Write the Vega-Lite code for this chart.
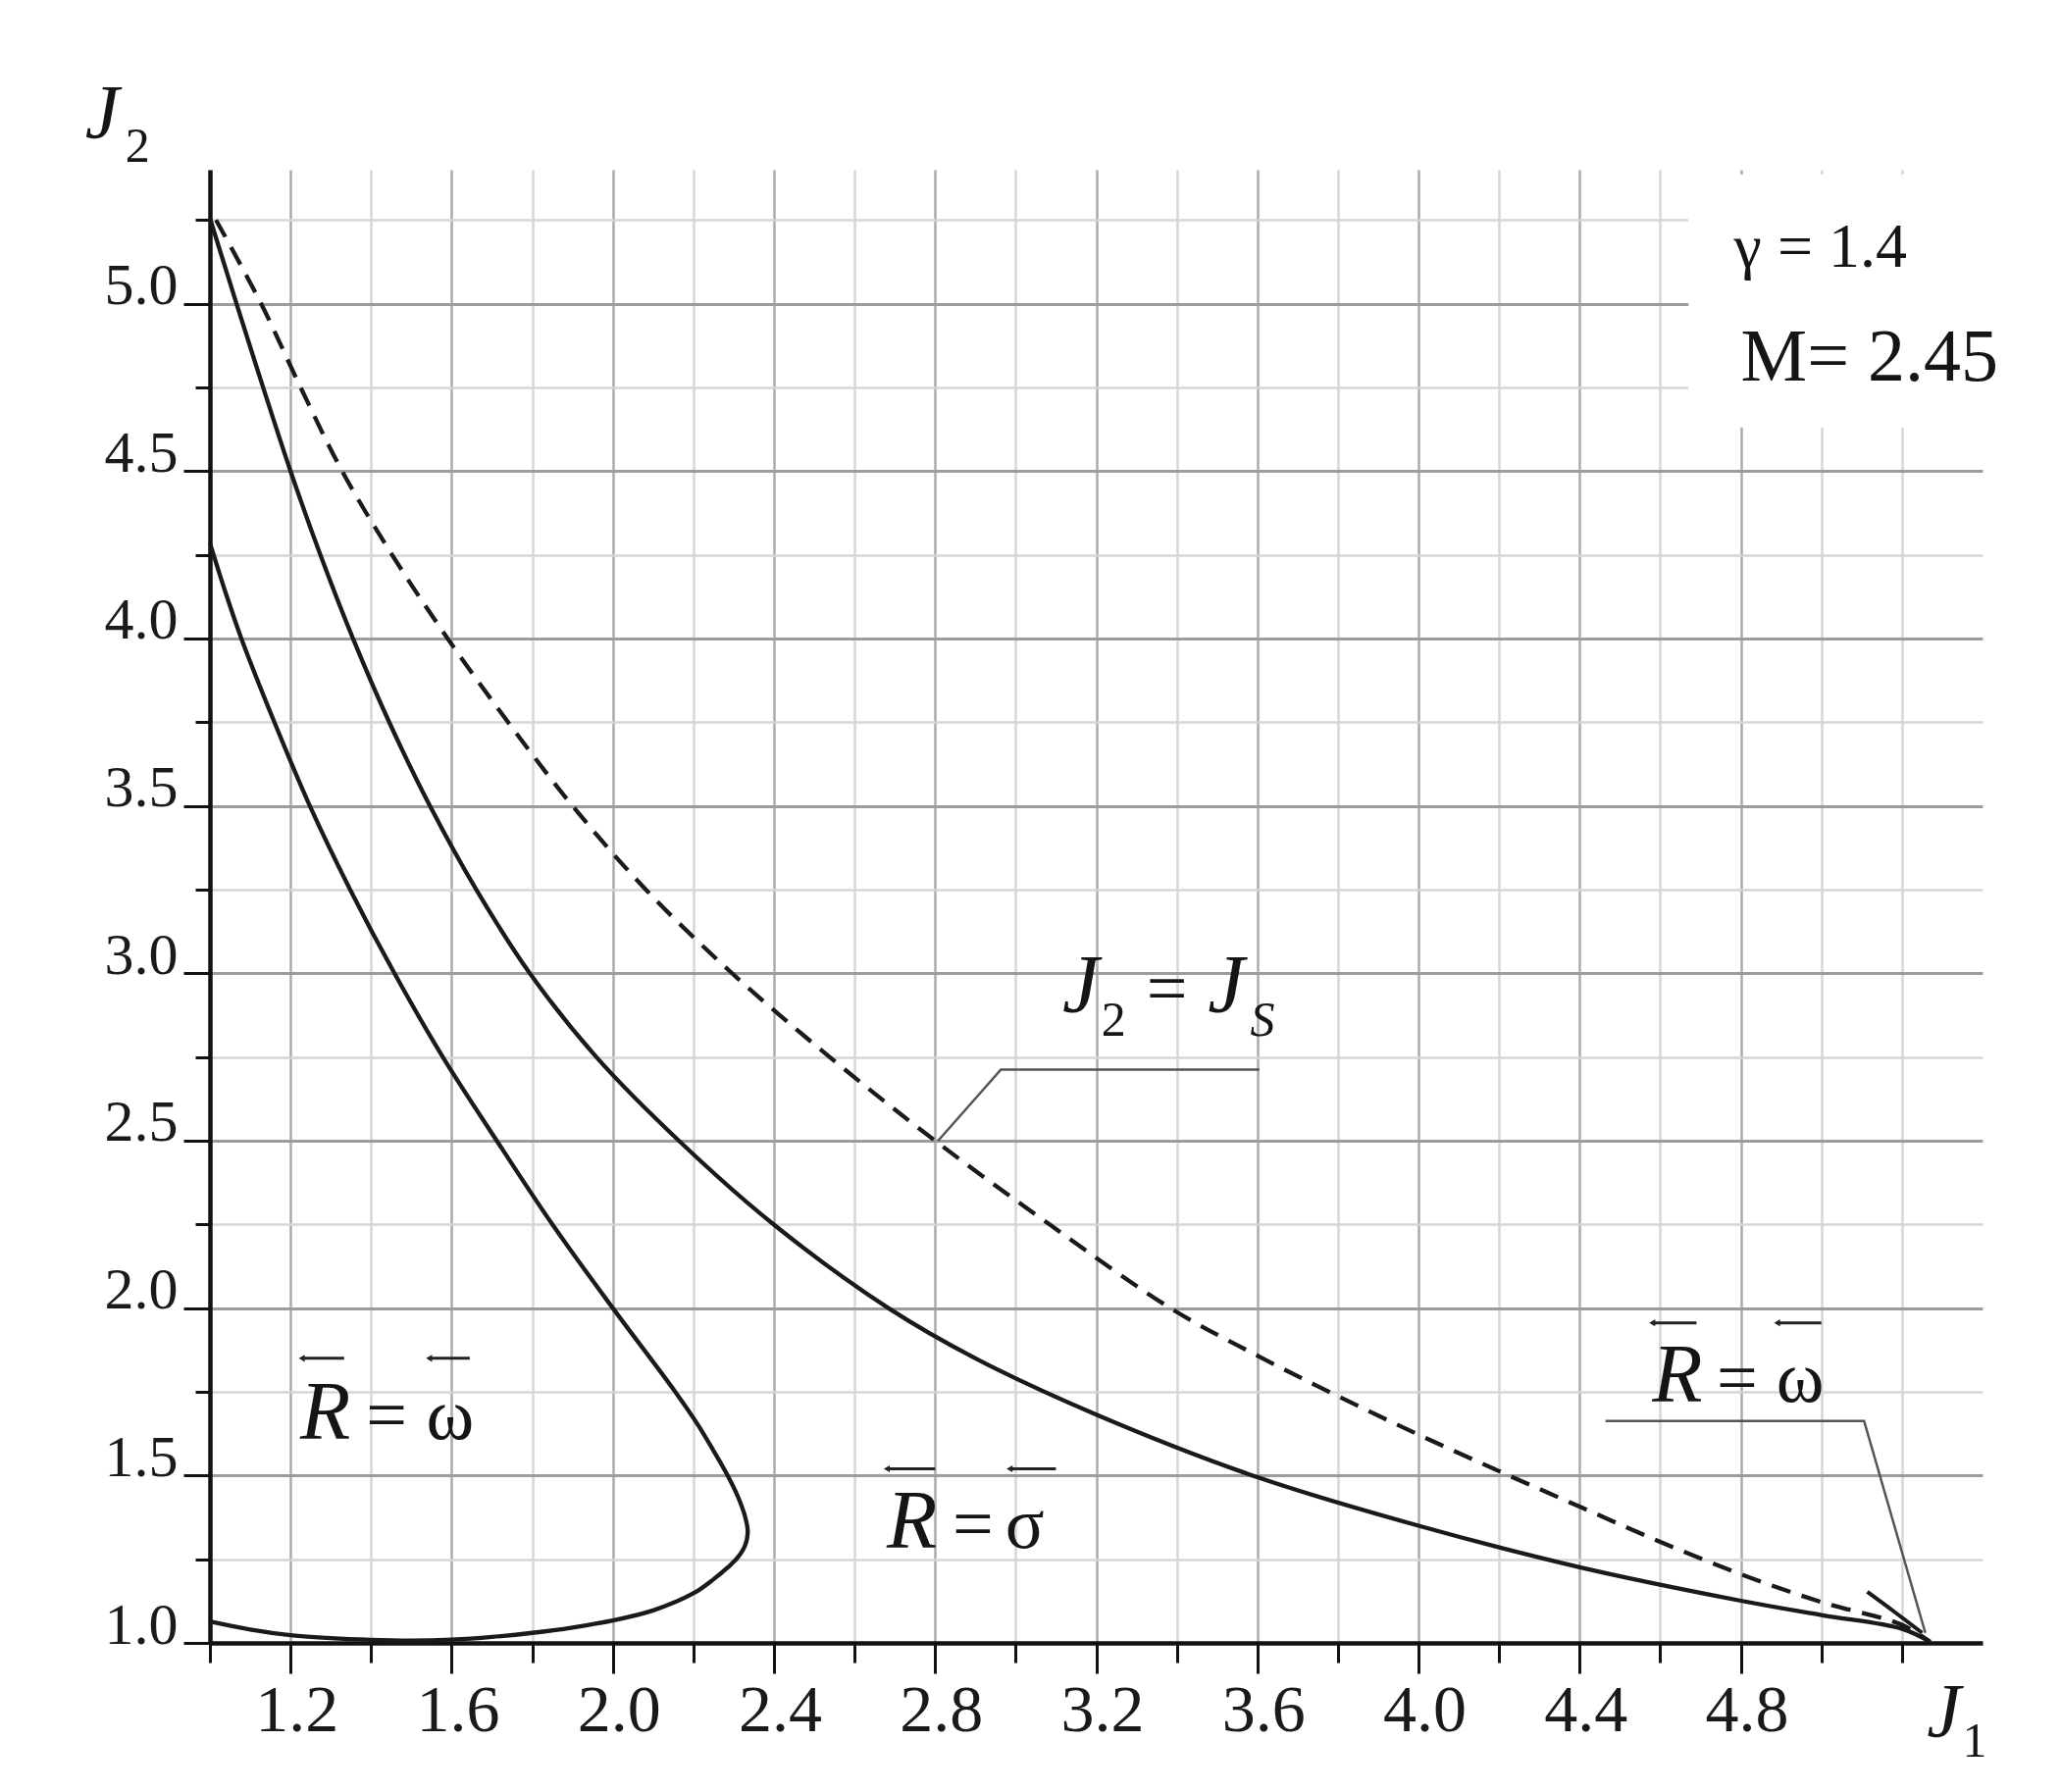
{
  "$schema": "https://vega.github.io/schema/vega-lite/v6.json",
  "width": 1807,
  "height": 1502,
  "autosize": {"type": "none"},
  "padding": {"left": 214, "top": 173, "right": 80, "bottom": 152},
  "background": "white",
  "config": {"view": {"stroke": null}, "font": "Liberation Serif"},
  "datasets": {
    "inner": [
      {"i": 1, "J1": 1.0, "J2": 4.285}, {"i": 2, "J1": 1.038, "J2": 4.14}, {"i": 3, "J1": 1.078, "J2": 4.0},
      {"i": 4, "J1": 1.16, "J2": 3.75}, {"i": 5, "J1": 1.248, "J2": 3.5}, {"i": 6, "J1": 1.348, "J2": 3.25},
      {"i": 7, "J1": 1.458, "J2": 3.0}, {"i": 8, "J1": 1.578, "J2": 2.75}, {"i": 9, "J1": 1.712, "J2": 2.5},
      {"i": 10, "J1": 1.85, "J2": 2.25}, {"i": 11, "J1": 2.0, "J2": 2.0}, {"i": 12, "J1": 2.155, "J2": 1.75},
      {"i": 13, "J1": 2.212, "J2": 1.65}, {"i": 14, "J1": 2.25, "J2": 1.574}, {"i": 15, "J1": 2.285, "J2": 1.5},
      {"i": 16, "J1": 2.313, "J2": 1.43}, {"i": 17, "J1": 2.33, "J2": 1.37}, {"i": 18, "J1": 2.335, "J2": 1.33},
      {"i": 19, "J1": 2.328, "J2": 1.29}, {"i": 20, "J1": 2.31, "J2": 1.255}, {"i": 21, "J1": 2.285, "J2": 1.225},
      {"i": 22, "J1": 2.25, "J2": 1.19}, {"i": 23, "J1": 2.2, "J2": 1.148}, {"i": 24, "J1": 2.1, "J2": 1.097},
      {"i": 25, "J1": 2.0, "J2": 1.067}, {"i": 26, "J1": 1.9, "J2": 1.046}, {"i": 27, "J1": 1.8, "J2": 1.03},
      {"i": 28, "J1": 1.7, "J2": 1.018}, {"i": 29, "J1": 1.6, "J2": 1.01}, {"i": 30, "J1": 1.5, "J2": 1.007},
      {"i": 31, "J1": 1.4, "J2": 1.009}, {"i": 32, "J1": 1.3, "J2": 1.014}, {"i": 33, "J1": 1.2, "J2": 1.023},
      {"i": 34, "J1": 1.1, "J2": 1.04}, {"i": 35, "J1": 1.0, "J2": 1.064}
    ],
    "sigma": [
      {"i": 1, "J1": 1.0, "J2": 5.255}, {"i": 2, "J1": 1.066, "J2": 5.0}, {"i": 3, "J1": 1.132, "J2": 4.75},
      {"i": 4, "J1": 1.2, "J2": 4.5}, {"i": 5, "J1": 1.274, "J2": 4.25}, {"i": 6, "J1": 1.355, "J2": 4.0},
      {"i": 7, "J1": 1.445, "J2": 3.75}, {"i": 8, "J1": 1.546, "J2": 3.5}, {"i": 9, "J1": 1.661, "J2": 3.25},
      {"i": 10, "J1": 1.794, "J2": 3.0}, {"i": 11, "J1": 1.959, "J2": 2.75}, {"i": 12, "J1": 2.164, "J2": 2.5},
      {"i": 13, "J1": 2.399, "J2": 2.25}, {"i": 14, "J1": 2.684, "J2": 2.0}, {"i": 15, "J1": 2.9, "J2": 1.85},
      {"i": 16, "J1": 3.2, "J2": 1.682}, {"i": 17, "J1": 3.6, "J2": 1.495}, {"i": 18, "J1": 4.0, "J2": 1.35},
      {"i": 19, "J1": 4.4, "J2": 1.226}, {"i": 20, "J1": 4.8, "J2": 1.126}, {"i": 21, "J1": 5.0, "J2": 1.083},
      {"i": 22, "J1": 5.2, "J2": 1.042}, {"i": 23, "J1": 5.27, "J2": 1.003}
    ],
    "js": [
      {"i": 1, "J1": 1.015, "J2": 5.25}, {"i": 2, "J1": 1.127, "J2": 5.0},
      {"i": 3, "J1": 1.225, "J2": 4.75}, {"i": 4, "J1": 1.328, "J2": 4.5}, {"i": 5, "J1": 1.452, "J2": 4.25},
      {"i": 6, "J1": 1.59, "J2": 4.0}, {"i": 7, "J1": 1.74, "J2": 3.75}, {"i": 8, "J1": 1.9, "J2": 3.5},
      {"i": 9, "J1": 2.082, "J2": 3.25}, {"i": 10, "J1": 2.296, "J2": 3.0}, {"i": 11, "J1": 2.538, "J2": 2.75},
      {"i": 12, "J1": 2.8, "J2": 2.5}, {"i": 13, "J1": 3.084, "J2": 2.25}, {"i": 14, "J1": 3.384, "J2": 2.0},
      {"i": 15, "J1": 3.6, "J2": 1.858}, {"i": 16, "J1": 3.8, "J2": 1.737}, {"i": 17, "J1": 4.0, "J2": 1.622},
      {"i": 18, "J1": 4.2, "J2": 1.513}, {"i": 19, "J1": 4.4, "J2": 1.407}, {"i": 20, "J1": 4.6, "J2": 1.302},
      {"i": 21, "J1": 4.8, "J2": 1.205}, {"i": 22, "J1": 5.0, "J2": 1.122}, {"i": 23, "J1": 5.2, "J2": 1.054},
      {"i": 24, "J1": 5.27, "J2": 1.003}
    ],
    "omegaRight": [
      {"i": 1, "J1": 5.114, "J2": 1.153}, {"i": 2, "J1": 5.19, "J2": 1.085}, {"i": 3, "J1": 5.25, "J2": 1.03}
    ],
    "leaders": [
      {"g": "js", "i": 1, "J1": 2.807, "J2": 2.499}, {"g": "js", "i": 2, "J1": 2.963, "J2": 2.712}, {"g": "js", "i": 3, "J1": 3.605, "J2": 2.712},
      {"g": "om", "i": 1, "J1": 4.464, "J2": 1.663}, {"g": "om", "i": 2, "J1": 5.106, "J2": 1.663}, {"g": "om", "i": 3, "J1": 5.258, "J2": 1.03}
    ],
    "box": [{"J1": 4.67, "J1b": 5.405, "J2": 4.63, "J2b": 5.385}],
    "overbars": [
      {"J1": 1.228, "J1b": 1.333, "J2": 1.85}, {"J1": 1.544, "J1b": 1.645, "J2": 1.85},
      {"J1": 2.68, "J1b": 2.8, "J2": 1.52}, {"J1": 2.985, "J1b": 3.1, "J2": 1.52},
      {"J1": 4.58, "J1b": 4.69, "J2": 1.956}, {"J1": 4.89, "J1b": 5.0, "J2": 1.956}
    ],
    "italicBig": [
      {"J1": 3.116, "J2": 2.885, "t": "J"}, {"J1": 3.477, "J2": 2.885, "t": "J"},
      {"J1": 1.224, "J2": 1.608, "t": "R"}, {"J1": 2.68, "J2": 1.283, "t": "R"}, {"J1": 4.58, "J2": 1.72, "t": "R"}
    ],
    "upright": [
      {"J1": 1.388, "J2": 1.608, "t": "="}, {"J1": 1.537, "J2": 1.608, "t": "ω"},
      {"J1": 2.843, "J2": 1.283, "t": "="}, {"J1": 2.974, "J2": 1.283, "t": "σ"},
      {"J1": 4.74, "J2": 1.72, "t": "="}, {"J1": 4.888, "J2": 1.72, "t": "ω"},
      {"J1": 3.325, "J2": 2.885, "t": "="}
    ],
    "subs": [
      {"J1": 3.213, "J2": 2.813, "t": "2"}, {"J1": 0.79, "J2": 5.423, "t": "2"}, {"J1": 5.35, "J2": 0.66, "t": "1"}
    ],
    "subsItalic": [{"J1": 3.582, "J2": 2.813, "t": "S"}],
    "axisJ": [{"J1": 0.69, "J2": 5.496, "t": "J"}, {"J1": 5.262, "J2": 0.722, "t": "J"}],
    "gamma": [{"J1": 4.783, "J2": 5.11, "t": "γ = 1.4"}],
    "mach": [{"J1": 4.8, "J2": 4.77, "t": "M= 2.45"}]
  },
  "encoding": {
    "x": {"field": "J1", "type": "quantitative", "scale": {"domain": [1, 5.4], "nice": false, "zero": false}, "axis": null},
    "y": {"field": "J2", "type": "quantitative", "scale": {"domain": [1, 5.4], "nice": false, "zero": false}, "axis": null}
  },
  "layer": [
    {
      "data": {"name": "inner"},
      "mark": {"type": "line", "interpolate": "catmull-rom", "stroke": "#1a1a1a", "strokeWidth": 4.3},
      "encoding": {
        "order": {"field": "i", "type": "quantitative"},
        "x": {"field": "J1", "type": "quantitative", "scale": {"domain": [1, 5.4], "nice": false, "zero": false},
          "axis": {"orient": "bottom", "title": null, "values": [1.0, 1.4, 1.8, 2.2, 2.6, 3.0, 3.4, 3.8, 4.2, 4.6, 5.0, 5.2],
            "grid": true, "gridColor": "#d6d6d6", "gridWidth": 2.5,
            "gridOpacity": {"condition": {"test": "datum.value == 1", "value": 0}, "value": 1},
            "labels": false, "ticks": true, "tickSize": 20, "tickWidth": 3, "tickColor": "#111",
            "domain": true, "domainColor": "#111", "domainWidth": 4.5}},
        "y": {"field": "J2", "type": "quantitative", "scale": {"domain": [1, 5.4], "nice": false, "zero": false},
          "axis": {"orient": "left", "title": null, "values": [1.25, 1.75, 2.25, 2.75, 3.25, 3.75, 4.25, 4.75, 5.25],
            "grid": true, "gridColor": "#d6d6d6", "gridWidth": 2.5,
            "labels": false, "ticks": true, "tickSize": 15, "tickWidth": 3, "tickColor": "#111",
            "domain": true, "domainColor": "#111", "domainWidth": 4.5}}
      }
    },
    {
      "data": {"name": "sigma"},
      "mark": {"type": "line", "interpolate": "catmull-rom", "stroke": "#1a1a1a", "strokeWidth": 4.3},
      "encoding": {
        "order": {"field": "i", "type": "quantitative"},
        "x": {"field": "J1", "type": "quantitative", "scale": {"domain": [1, 5.4], "nice": false, "zero": false},
          "axis": {"orient": "bottom", "title": null, "values": [1.2, 1.6, 2.0, 2.4, 2.8, 3.2, 3.6, 4.0, 4.4, 4.8],
            "format": ".1f", "grid": true, "gridColor": "#ababab", "gridWidth": 2.5,
            "labels": true, "labelFont": "Liberation Serif", "labelFontSize": 68, "labelColor": "#1a1a1a",
            "labelPadding": 4, "labelOffset": 6, "labelOverlap": false, "labelFlush": false,
            "ticks": true, "tickSize": 31, "tickWidth": 3, "tickColor": "#111", "domain": false}},
        "y": {"field": "J2", "type": "quantitative", "scale": {"domain": [1, 5.4], "nice": false, "zero": false},
          "axis": {"orient": "left", "title": null, "values": [1.0, 1.5, 2.0, 2.5, 3.0, 3.5, 4.0, 4.5, 5.0],
            "format": ".1f", "grid": true, "gridColor": "#9c9c9c", "gridWidth": 3,
            "gridOpacity": {"condition": {"test": "datum.value == 1", "value": 0}, "value": 1},
            "labels": true, "labelFont": "Liberation Serif", "labelFontSize": 60, "labelColor": "#1a1a1a",
            "labelBaseline": "alphabetic", "labelPadding": 6, "labelOverlap": false, "labelFlush": false,
            "ticks": true, "tickSize": 27, "tickWidth": 3, "tickColor": "#111", "domain": false}}
      }
    },
    {
      "data": {"name": "js"},
      "mark": {"type": "line", "interpolate": "catmull-rom", "stroke": "#1a1a1a", "strokeWidth": 4.3, "strokeDash": [20, 12]},
      "encoding": {"order": {"field": "i", "type": "quantitative"}}
    },
    {
      "data": {"name": "omegaRight"},
      "mark": {"type": "line", "interpolate": "catmull-rom", "stroke": "#1a1a1a", "strokeWidth": 4},
      "encoding": {"order": {"field": "i", "type": "quantitative"}}
    },
    {
      "data": {"name": "leaders"},
      "mark": {"type": "line", "stroke": "#555", "strokeWidth": 2.5},
      "encoding": {"order": {"field": "i", "type": "quantitative"}, "detail": {"field": "g"}}
    },
    {
      "data": {"name": "box"},
      "mark": {"type": "rect", "fill": "white"},
      "encoding": {"x2": {"field": "J1b"}, "y2": {"field": "J2b"}}
    },
    {
      "data": {"name": "overbars"},
      "mark": {"type": "rule", "stroke": "#222", "strokeWidth": 3},
      "encoding": {"x2": {"field": "J1b"}}
    },
    {
      "data": {"name": "overbars"},
      "mark": {"type": "point", "shape": "triangle-left", "filled": true, "color": "#222", "size": 50, "opacity": 1}
    },
    {
      "data": {"name": "italicBig"},
      "mark": {"type": "text", "align": "left", "baseline": "alphabetic", "font": "Liberation Serif", "fontStyle": "italic", "fontSize": 84, "color": "#151515"},
      "encoding": {"text": {"field": "t"}}
    },
    {
      "data": {"name": "upright"},
      "mark": {"type": "text", "align": "left", "baseline": "alphabetic", "font": "Liberation Serif", "fontSize": 74, "color": "#151515"},
      "encoding": {"text": {"field": "t"}}
    },
    {
      "data": {"name": "subs"},
      "mark": {"type": "text", "align": "left", "baseline": "alphabetic", "font": "Liberation Serif", "fontSize": 50, "color": "#151515"},
      "encoding": {"text": {"field": "t"}}
    },
    {
      "data": {"name": "subsItalic"},
      "mark": {"type": "text", "align": "left", "baseline": "alphabetic", "font": "Liberation Serif", "fontStyle": "italic", "fontSize": 50, "color": "#151515"},
      "encoding": {"text": {"field": "t"}}
    },
    {
      "data": {"name": "axisJ"},
      "mark": {"type": "text", "align": "left", "baseline": "alphabetic", "font": "Liberation Serif", "fontStyle": "italic", "fontSize": 78, "color": "#151515"},
      "encoding": {"text": {"field": "t"}}
    },
    {
      "data": {"name": "gamma"},
      "mark": {"type": "text", "align": "left", "baseline": "alphabetic", "font": "Liberation Serif", "fontSize": 64, "color": "#151515"},
      "encoding": {"text": {"field": "t"}}
    },
    {
      "data": {"name": "mach"},
      "mark": {"type": "text", "align": "left", "baseline": "alphabetic", "font": "Liberation Serif", "fontSize": 76, "color": "#151515"},
      "encoding": {"text": {"field": "t"}}
    }
  ],
  "resolve": {"axis": {"x": "independent", "y": "independent"}}
}
